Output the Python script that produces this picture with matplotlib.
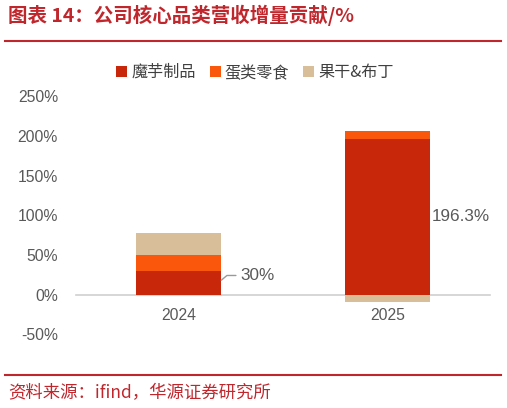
import numpy as np
import matplotlib
matplotlib.use("Agg")
import matplotlib.pyplot as plt
from matplotlib.lines import Line2D

plt.rcParams["font.family"] = ["Liberation Sans", "Noto Sans CJK SC", "DejaVu Sans"]

# data
years = ["2024", "2025"]
konjac = [30.0, 196.3]   # 魔芋制品
eggs = [20.0, 10.5]      # 蛋类零食
fruit = [28.0, -10.0]    # 果干&布丁
series_names = ["魔芋制品", "蛋类零食", "果干&布丁"]
colors = ["#C8270A", "#FA560C", "#D9BF99"]
yticks = [-50, 0, 50, 100, 150, 200, 250]

RED = "#C0272D"
GREY = "#595959"

fig = plt.figure(figsize=(5.07, 4.08), dpi=100)
ax = fig.add_axes([0.150, 0.181, 0.816, 0.583])

x = np.arange(len(years))
w = 0.41
pos_base = np.zeros(len(years))
neg_base = np.zeros(len(years))
for vals, name, c in zip([konjac, eggs, fruit], series_names, colors):
    vals = np.array(vals)
    bottom = np.where(vals >= 0, pos_base, neg_base)
    ax.bar(x, vals, w, bottom=bottom, color=c, label=name, zorder=2)
    pos_base += np.clip(vals, 0, None)
    neg_base += np.clip(vals, None, 0)

ax.set_xlim(-0.49, 1.49)
ax.set_ylim(-50, 250)
ax.set_yticks(yticks)
ax.set_yticklabels([f"{t}%" for t in yticks])
ax.set_xticks(x)
ax.set_xticklabels(years)
for s in ax.spines.values():
    s.set_visible(False)
# category axis sits on the zero line
ax.spines["bottom"].set_visible(True)
ax.spines["bottom"].set_position(("data", 0))
ax.spines["bottom"].set_color("#D0D0D0")
ax.spines["bottom"].set_linewidth(1.2)
ax.spines["bottom"].set_zorder(1)
ax.tick_params(axis="both", length=0, colors=GREY, labelsize=11.3)
ax.tick_params(axis="y", pad=13)
ax.tick_params(axis="x", pad=10)

# value labels
ax.annotate(f"{konjac[0]:g}%", xy=(x[0] + w / 2, 18), xytext=(x[0] + w / 2 + 0.09, 24),
            va="center", ha="left", color=GREY, fontsize=12.3,
            arrowprops=dict(arrowstyle="-", color="#999999", lw=1, shrinkA=1, shrinkB=0,
                            connectionstyle="angle,angleA=180,angleB=40,rad=0"))
ax.text(x[1] + w / 2 + 0.005, konjac[1] / 2, f"{konjac[1]}%", va="center", ha="left",
        color=GREY, fontsize=12.3)

leg = ax.legend(loc="center", bbox_to_anchor=(0.503, 0.822), bbox_transform=fig.transFigure,
                ncol=3, frameon=False, handlelength=0.7, handleheight=0.7,
                handletextpad=0.25, columnspacing=0.85,
                prop={"family": ["Noto Sans CJK SC"], "size": 11.6})
for t in leg.get_texts():
    t.set_color("#404040")

# header / footer
fig.text(0.016, 0.962, "图表 14：公司核心品类营收增量贡献/%", color=RED, fontsize=14,
         fontweight="bold", va="center", ha="left", family=["Noto Sans CJK SC", "DejaVu Sans"])
fig.add_artist(Line2D([0.01, 0.988], [0.899, 0.899], color=RED, lw=1.5))
fig.add_artist(Line2D([0.01, 0.988], [0.081, 0.081], color=RED, lw=1.5))
fig.text(0.016, 0.037, "资料来源：ifind，华源证券研究所", color=RED, fontsize=12.5,
         va="center", ha="left", family=["Noto Sans CJK SC", "DejaVu Sans"])

fig.savefig("out.png", dpi=100)
